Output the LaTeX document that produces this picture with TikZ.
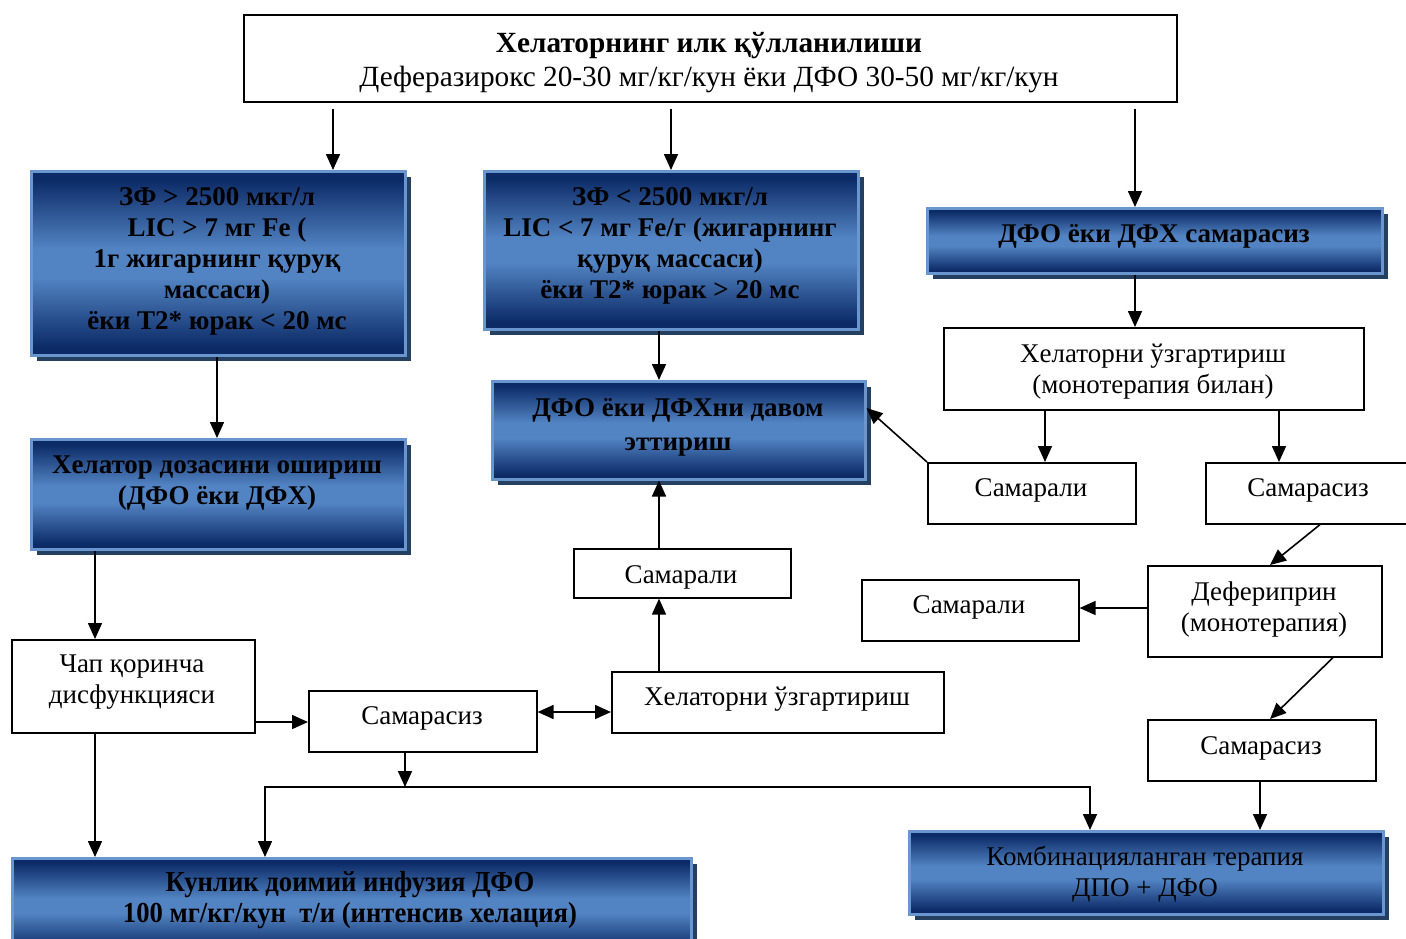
\documentclass[tikz,border=0pt]{standalone}
\usepackage{fontspec}
\setmainfont{Liberation Serif}
\usetikzlibrary{arrows.meta,shadows}
\definecolor{navy}{HTML}{0B2A66}
\definecolor{midblue}{HTML}{5283C2}
\definecolor{bordblue}{HTML}{6A96CF}
\definecolor{shadowc}{HTML}{243F60}
\pgfdeclareverticalshading{bluegrad}{100bp}{color(0bp)=(navy); color(27bp)=(navy); color(46bp)=(midblue); color(54bp)=(midblue); color(73bp)=(navy); color(100bp)=(navy)}
\tikzset{
  bluebox/.style={draw=bordblue, line width=2.5pt, shading=bluegrad,
    drop shadow={shadow xshift=6pt, shadow yshift=-6pt, fill=shadowc, opacity=1},
    anchor=north west, inner sep=0pt},
  whitebox/.style={draw=black, line width=1.6pt, fill=white, anchor=north west, inner sep=0pt},
  bt/.style={font=\fontsize{27}{31}\selectfont\bfseries, align=center, text=black, inner sep=0pt, yshift=-2.5pt},
  wt/.style={font=\fontsize{27}{31}\selectfont, align=center, text=black, inner sep=0pt, yshift=-2.5pt},
  arr/.style={line width=1.6pt, -{Triangle[length=16pt,width=14pt]}},
  darr/.style={line width=1.6pt, {Triangle[length=16pt,width=14pt]}-{Triangle[length=16pt,width=14pt]}}
}
\begin{document}
\begin{tikzpicture}[x=1pt,y=-1pt]
\useasboundingbox (0,0) rectangle (1406,938);
\clip (0,0) rectangle (1406,938);
% white boxes
\node[whitebox, minimum width=933, minimum height=87] (top) at (243,14) {};
\node[whitebox, minimum width=420, minimum height=82] (w6) at (943,327) {};
\node[whitebox, minimum width=208, minimum height=61] (samR) at (927,462) {};
\node[whitebox, minimum width=205, minimum height=61] (sasR) at (1205,462) {};
\node[whitebox, minimum width=234, minimum height=91] (def) at (1147,565) {};
\node[whitebox, minimum width=217, minimum height=61] (samM) at (861,579) {};
\node[whitebox, minimum width=228, minimum height=61] (sasB) at (1147,719) {};
\node[whitebox, minimum width=243, minimum height=93] (chap) at (11,639) {};
\node[whitebox, minimum width=228, minimum height=61] (sasL) at (308,690) {};
\node[whitebox, minimum width=332, minimum height=61] (hz) at (611,671) {};
\node[whitebox, minimum width=217, minimum height=49] (samC) at (573,548) {};
% blue boxes
\node[bluebox, minimum width=374, minimum height=184] (b1) at (30,170) {};
\node[bluebox, minimum width=374, minimum height=158] (b2) at (483,170) {};
\node[bluebox, minimum width=455, minimum height=65] (b3) at (926,207) {};
\node[bluebox, minimum width=374, minimum height=110] (b4) at (30,438) {};
\node[bluebox, minimum width=373, minimum height=98] (b5) at (491,380) {};
\node[bluebox, minimum width=474, minimum height=83] (comb) at (908,830) {};
\node[bluebox, minimum width=679, minimum height=95] (kun) at (11,857) {};
% texts
\node[wt, font=\fontsize{29.3}{34}\selectfont] (top-t) at (709,60) {\textbf{Хелаторнинг илк қўлланилиши}\\Деферазирокс 20-30 мг/кг/кун ёки ДФО 30-50 мг/кг/кун};
\node[bt] (b1-t) at (217,259) {ЗФ > 2500 мкг/л\\LIC > 7 мг Fe (\\1г жигарнинг қуруқ\\массаси)\\ёки T2* юрак < 20 мс};
\node[bt] (b2-t) at (670,243) {ЗФ < 2500 мкг/л\\LIC < 7 мг Fe/г (жигарнинг\\қуруқ массаси)\\ёки T2* юрак > 20 мс};
\node[bt] (b3-t) at (1154,234) {ДФО ёки ДФХ самарасиз};
\node[bt] (b4-t) at (217,481) {Хелатор дозасини ошириш\\(ДФО ёки ДФХ)};
\node[bt, font=\fontsize{27}{34}\selectfont\bfseries] (b5-t) at (678,425) {ДФО ёки ДФХни давом\\эттириш};
\node[wt] (comb-t) at (1145,872) {Комбинацияланган терапия\\ДПО + ДФО};
\node[bt, font=\fontsize{29}{31}\selectfont\bfseries] (kun-t) at (350,898) {\scalebox{0.92}[1]{Кунлик доимий инфузия ДФО}\\\scalebox{0.92}[1]{100 мг/кг/кун\ \ т/и (интенсив хелация)}};
\node[wt] (w6-t) at (1153,369) {Хелаторни ўзгартириш\\(монотерапия билан)};
\node[wt] (samR-t) at (1031,488) {Самарали};
\node[wt] (sasR-t) at (1308,488) {Самарасиз};
\node[wt] (def-t) at (1264,607) {Дефериприн\\(монотерапия)};
\node[wt] (samM-t) at (969,605) {Самарали};
\node[wt] (sasB-t) at (1261,746) {Самарасиз};
\node[wt] (chap-t) at (132,680) {Чап қоринча\\дисфункцияси};
\node[wt] (sasL-t) at (422,716) {Самарасиз};
\node[wt] (hz-t) at (777,697) {Хелаторни ўзгартириш};
\node[wt] (samC-t) at (681,575) {Самарали};
% connectors
\draw[arr, shorten <=6pt] (top.south -| 333,0) -- (b1.north -| 333,0);
\draw[arr, shorten <=6pt] (top.south -| 671,0) -- (b2.north -| 671,0);
\draw[arr, shorten <=6pt] (top.south -| 1135,0) -- (b3.north -| 1135,0);
\draw[arr] (b1.south -| 217,0) -- (b4.north -| 217,0);
\draw[arr] (b2.south -| 659,0) -- (b5.north -| 659,0);
\draw[arr] (b3.south -| 1135,0) -- (w6.north -| 1135,0);
\draw[arr] (w6.south -| 1045,0) -- (samR.north -| 1045,0);
\draw[arr] (w6.south -| 1279,0) -- (sasR.north -| 1279,0);
\draw[arr] (samR.north west) -- (b5.east |- 0,408);
\draw[arr] (sasR.south -| 1320,0) -- (def.north -| 1270,0);
\draw[arr] (def.west |- 0,608) -- (samM.east |- 0,608);
\draw[arr] (def.south -| 1333,0) -- (sasB.north -| 1270,0);
\draw[arr] (sasB.south -| 1260,0) -- (comb.north -| 1260,0);
\draw[arr] (b4.south -| 95,0) -- (chap.north -| 95,0);
\draw[arr] (chap.east |- 0,722) -- (sasL.west |- 0,722);
\draw[arr] (chap.south -| 95,0) -- (kun.north -| 95,0);
\draw[darr] (sasL.east |- 0,712) -- (hz.west |- 0,712);
\draw[arr] (hz.north -| 659,0) -- (samC.south -| 659,0);
\draw[arr] (samC.north -| 659,0) -- (b5.south -| 659,0);
\coordinate (j) at (405,787);
\coordinate (jl) at (265,787);
\coordinate (jr) at (1090,787);
\draw[arr] (sasL.south -| j) -- (j);
\draw[darr] (kun.north -| jl) -- (jl) -- (jr) -- (comb.north -| jr);
\end{tikzpicture}
\end{document}
